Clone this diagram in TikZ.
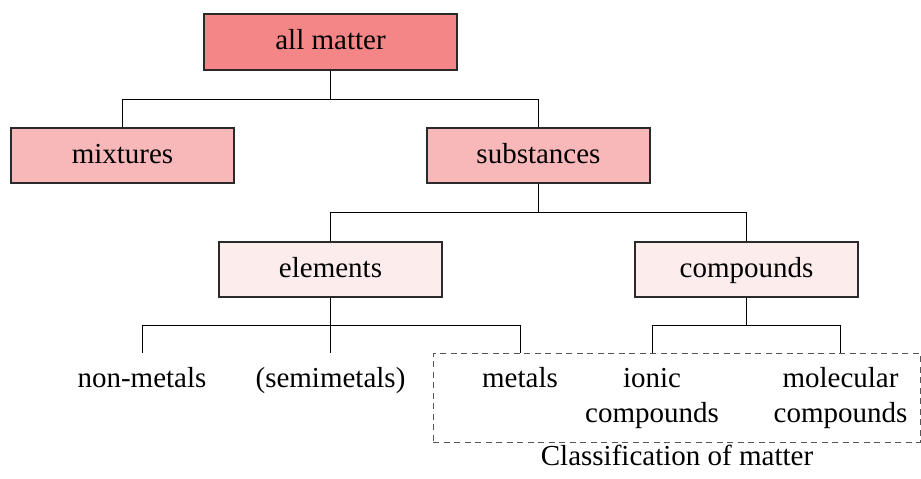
\documentclass[tikz,border=0pt]{standalone}
\usepackage{fontspec}
\setmainfont{Liberation Serif}
\definecolor{fillA}{HTML}{F58687}
\definecolor{fillB}{HTML}{F8B8BA}
\definecolor{fillC}{HTML}{FCECEC}
\definecolor{edge}{HTML}{2A2A2A}
\definecolor{dashc}{HTML}{555555}
\tikzset{
  box/.style={draw=edge, line width=1.2pt, rectangle, inner sep=0pt,
    minimum width=223pt, minimum height=55pt, text height=20pt, text depth=5pt},
  leaf/.style={inner sep=0pt, anchor=base, align=center},
  conn/.style={draw=black, line width=1pt},
}
\begin{document}
\begin{tikzpicture}[x=1pt,y=-1pt,
  every node/.style={font=\fontsize{29}{35}\selectfont}]
\useasboundingbox (0,0) rectangle (921,479);
\node[box, fill=fillA, minimum width=253pt, minimum height=56pt] (am) at (330.5,42) {all matter};
\node[box, fill=fillB] (mix) at (122.5,155.5) {mixtures};
\node[box, fill=fillB] (sub) at (538.5,155.5) {substances};
\node[box, fill=fillC] (el) at (330.5,269.5) {elements};
\node[box, fill=fillC] (cp) at (746.5,269.5) {compounds};
\node[draw=dashc, dashed, dash pattern=on 6pt off 4.5pt, line width=1pt, inner sep=0pt,
  minimum width=487pt, minimum height=89pt] (grp) at (676.5,397.5) {};
\node[leaf] (nm) at (142,387) {non-metals};
\node[leaf] (sm) at (330.5,387) {(semimetals)};
\node[leaf] (mt) at (520,387) {metals};
\node[leaf] (io) at (652,422) {ionic\\compounds};
\node[leaf] (mo) at (840.5,422) {molecular\\compounds};
\node[leaf] (cap) at (677,465) {Classification of matter};
\draw[conn] (am.south) -- ++(0,29) -| (mix.north);
\draw[conn] (am.south) -- ++(0,29) -| (sub.north);
\draw[conn] (sub.south) -- ++(0,29) -| (el.north);
\draw[conn] (sub.south) -- ++(0,29) -| (cp.north);
\draw[conn] (el.south) -- ++(0,28) -| (nm |- grp.north);
\draw[conn] (el.south) -- ++(0,28) -| (sm |- grp.north);
\draw[conn] (el.south) -- ++(0,28) -| (mt |- grp.north);
\draw[conn] (cp.south) -- ++(0,28) -| (io |- grp.north);
\draw[conn] (cp.south) -- ++(0,28) -| (mo |- grp.north);
\end{tikzpicture}
\end{document}
